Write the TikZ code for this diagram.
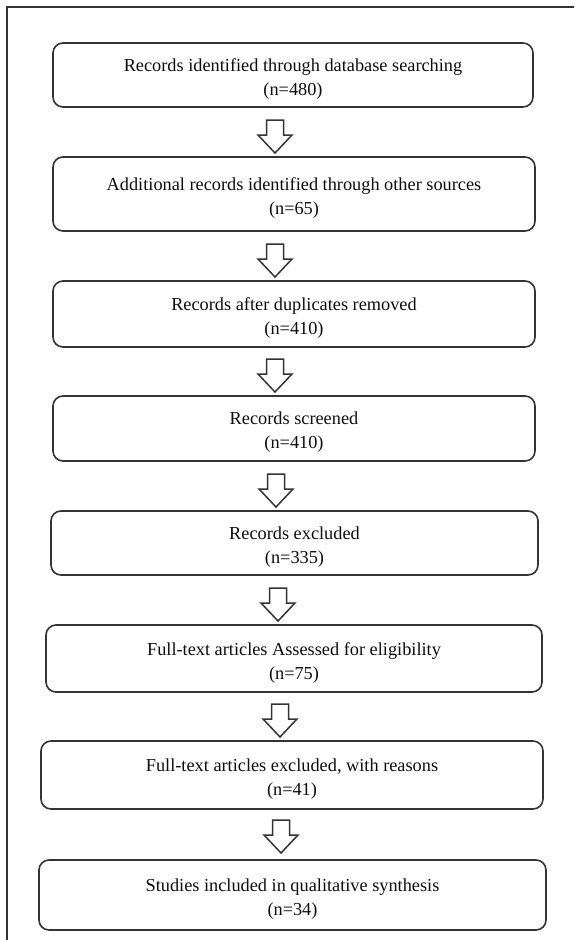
\documentclass[tikz,border=0pt]{standalone}
\usepackage{fontspec}
\setmainfont{Liberation Serif}
\newcommand\flowarrow[3]{%
  \coordinate (#1) at (#2,#3);
  \draw[barrow] (#2-8.5,#3) -- ++(17,0) -- ++(0,15) -- ++(8.5,0) -- ++(-17,18) -- ++(-17,-18) -- ++(8.5,0) -- cycle;}
\begin{document}
\begin{tikzpicture}[x=1pt,y=-1pt,
  box/.style={draw=black!80, line width=1.6pt, rounded corners=10pt, inner sep=0pt},
  txt/.style={align=center, font=\fontsize{18.3}{24}\selectfont, text=black!95, inner sep=0pt},
  barrow/.style={draw=black!80, line width=1.5pt, fill=white, line join=miter},
  frame/.style={draw=black!80, line width=1.4pt}]
\useasboundingbox (0,0) rectangle (574,940);
\draw[frame] (7,940) -- (7,7) -- (574,7);

\node[box, minimum width=480, minimum height=64] (b1) at (293,75) {};
\node[txt] (t1) at ([yshift=-4pt]b1.center) {Records identified through database searching\\(n=480)};

\node[box, minimum width=482, minimum height=74] (b2) at (294,194) {};
\node[txt] (t2) at ([yshift=-4pt]b2.center) {Additional records identified through other sources\\(n=65)};

\node[box, minimum width=482, minimum height=66] (b3) at (294,314) {};
\node[txt] (t3) at ([yshift=-4pt]b3.center) {Records after duplicates removed\\(n=410)};

\node[box, minimum width=482, minimum height=65] (b4) at (294,428.5) {};
\node[txt] (t4) at ([yshift=-4pt]b4.center) {Records screened\\(n=410)};

\node[box, minimum width=487, minimum height=64] (b5) at (294.5,543) {};
\node[txt] (t5) at ([yshift=-4pt]b5.center) {Records excluded\\(n=335)};

\node[box, minimum width=496, minimum height=67] (b6) at (294,658.5) {};
\node[txt] (t6) at ([yshift=-4pt]b6.center) {Full-text articles Assessed for eligibility\\(n=75)};

\node[box, minimum width=502, minimum height=68] (b7) at (292,775) {};
\node[txt] (t7) at ([yshift=-4pt]b7.center) {Full-text articles excluded, with reasons\\(n=41)};

\node[box, minimum width=507, minimum height=70] (b8) at (292.5,895) {};
\node[txt] (t8) at ([yshift=-4pt]b8.center) {Studies included in qualitative synthesis\\(n=34)};

\flowarrow{a1}{275}{120}
\flowarrow{a2}{275}{244}
\flowarrow{a3}{275}{359}
\flowarrow{a4}{276}{474}
\flowarrow{a5}{278}{588}
\flowarrow{a6}{280}{704}
\flowarrow{a7}{281}{820}
\end{tikzpicture}
\end{document}
